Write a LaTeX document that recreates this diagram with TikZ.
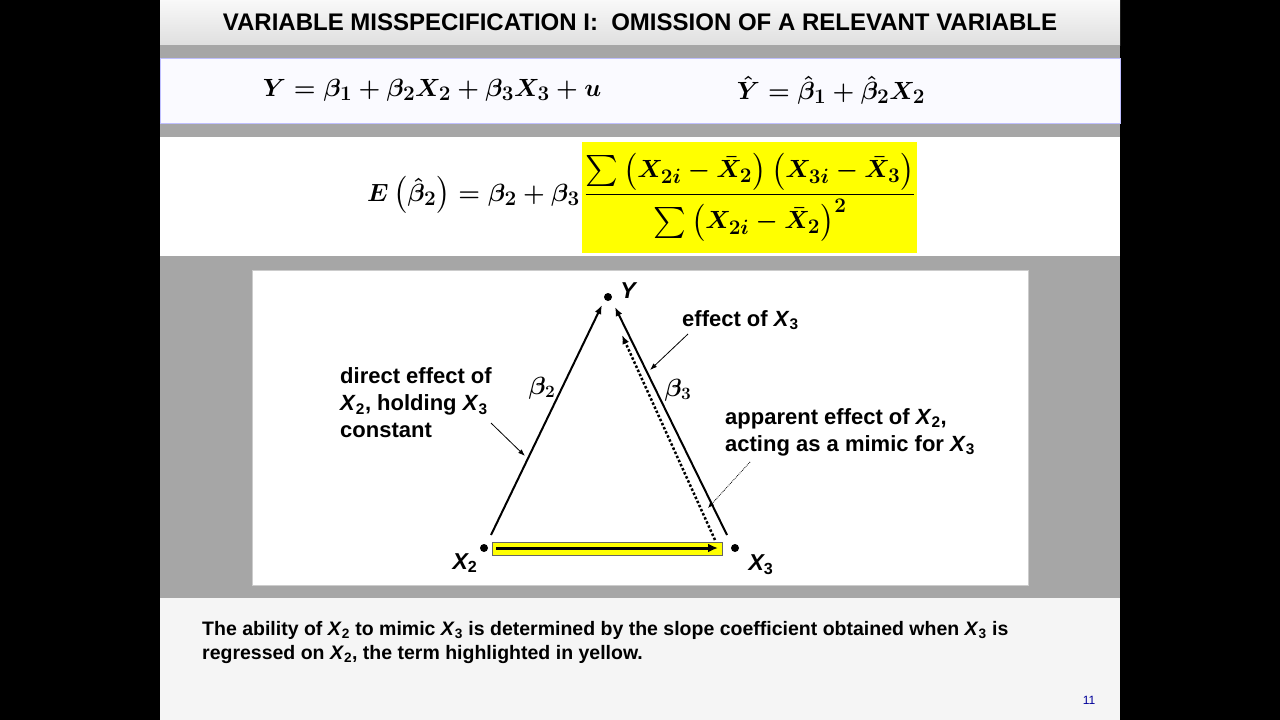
\documentclass[tikz,border=0pt]{standalone}
\usepackage{amsmath,amssymb,bm}
\usepackage{fontspec}
\setmainfont{Liberation Sans}
\usetikzlibrary{arrows.meta}
\definecolor{panelgray}{HTML}{A6A6A6}
\definecolor{hilite}{HTML}{FFFF00}
\begin{document}
\begin{tikzpicture}[x=1pt,y=-1pt,
    lbl/.style={font=\fontsize{22}{26}\selectfont\bfseries, align=left, inner sep=0pt},
    eq/.style={font=\fontsize{28}{32}\selectfont\boldmath, inner sep=0pt},
    dot/.style={circle, fill=black, inner sep=0pt, minimum size=8pt},
    link/.style={line width=2pt, -{Latex[length=9pt,width=7pt]}},
    pointer/.style={thick, -{Latex[length=7pt,width=5pt]}}]
% slide frame
    \fill[black] (0,0) rectangle (1280,720);
    \fill[gray!8] (160,0) rectangle (1120,720);
    \shade[top color=gray!5, bottom color=gray!25] (160,0) rectangle (1120,45);
    \fill[panelgray] (160,45) rectangle (1120,137);
    \fill[blue!2, draw=blue!25] (160,58) rectangle (1120,123);
    \fill[white] (160,137) rectangle (1120,256);
    \fill[hilite] (582,142) rectangle (917,253);
    \fill[panelgray] (160,256) rectangle (1120,598);
    \fill[white, draw=gray!40] (252,270) rectangle (1028,585);
    \node[font=\fontsize{24}{28}\selectfont\bfseries] (title) at (640,22)
      {VARIABLE MISSPECIFICATION I:\ \ OMISSION OF A RELEVANT VARIABLE};
% equations
    \node[eq] (model) at (432,90) {$Y = \beta_1 + \beta_2 X_2 + \beta_3 X_3 + u$};
    \node[eq] (fitted) at (831,90) {$\hat{Y} = \hat\beta_1 + \hat\beta_2 X_2$};
    \node[eq, font=\fontsize{31}{35}\selectfont\boldmath, anchor=east] (expect) at (580,195)
      {$E\left(\hat\beta_2\right) = \beta_2 + \beta_3$};
    \node[eq, font=\fontsize{31}{35}\selectfont\boldmath, anchor=center] (ratio) at (750,197)
      {$\dfrac{\sum\left(X_{2i}-\bar X_2\right)\left(X_{3i}-\bar X_3\right)}{\sum\left(X_{2i}-\bar X_2\right)^2}$};
% triangle
    \node[dot] (y) at (608,297) {};
    \node[dot] (x2) at (484,548) {};
    \node[dot] (x3) at (735,548) {};
    \node[lbl, font=\fontsize{23}{26}\selectfont\bfseries\itshape] at (628,291) {Y};
    \node[lbl, font=\fontsize{23}{26}\selectfont\bfseries\itshape] at (465,563) {X\textsubscript{\upshape 2}};
    \node[lbl, font=\fontsize{23}{26}\selectfont\bfseries\itshape] at (761,565) {X\textsubscript{\upshape 3}};
    \coordinate (x2top) at (491,535);
    \coordinate (x3top) at (727,535);
    \coordinate (x3dot) at (715,540);
    \fill[hilite, draw=black!60, thin] (492,542) rectangle (722,555);
    \draw[link] (x2top) -- ([shift={(-6,8)}]y.center);
    \draw[link] (x3top) -- ([shift={(7,10)}]y.center);
    \draw[line width=2.5pt, dotted, -{Latex[length=9pt,width=7pt]}] (x3dot) -- (622,335);
    \draw[line width=3pt, -{Latex[length=10pt,width=9pt]}] (496,548) -- (718,548);
    \node[eq, font=\fontsize{24}{28}\selectfont\boldmath] (b2) at (542,388) {$\beta_2$};
    \node[eq, font=\fontsize{24}{28}\selectfont\boldmath] (b3) at (678,390) {$\beta_3$};
% labels and pointers
    \node[lbl, anchor=west] (effect) at (682,320) {effect of \textit{X}\textsubscript{3}};
    \draw[pointer] (688,334) -- (650,370);
    \node[lbl, anchor=west] (direct) at (340,403)
      {direct effect of\\[1pt]\textit{X}\textsubscript{2}, holding \textit{X}\textsubscript{3}\\[1pt]constant};
    \draw[pointer] (491,423) -- (525,456);
    \node[lbl, anchor=west] (apparent) at (725,432)
      {apparent effect of \textit{X}\textsubscript{2},\\[1pt]acting as a mimic for \textit{X}\textsubscript{3}};
    \draw[thick, densely dotted, -{Latex[length=6pt,width=5pt]}] (750,462) -- (708,508);
% caption
    \node[lbl, font=\fontsize{19.5}{24}\selectfont\bfseries, anchor=west] (caption) at (202,642)
      {The ability of \textit{X}\textsubscript{2} to mimic \textit{X}\textsubscript{3} is determined by the slope coefficient obtained when \textit{X}\textsubscript{3} is\\regressed on \textit{X}\textsubscript{2}, the term highlighted in yellow.};
    \node[font=\fontsize{12}{14}\selectfont, text=blue!60!black] (page) at (1089,700) {11};
\end{tikzpicture}
\end{document}
